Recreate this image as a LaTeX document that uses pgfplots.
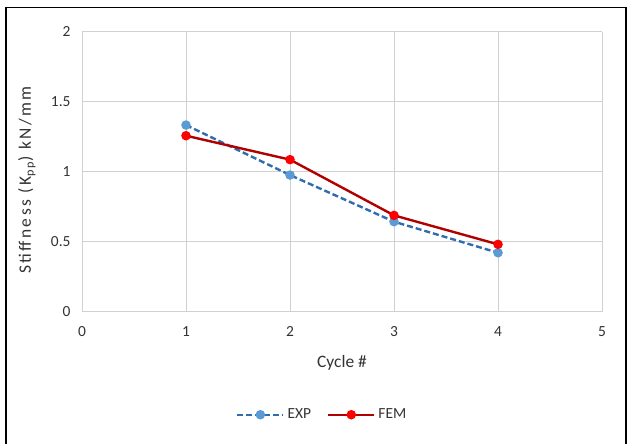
\documentclass[border=0pt]{standalone}
\usepackage{fontspec}
\setmainfont{Carlito}
\newfontfamily\spaced[LetterSpace=14]{Carlito}
\usepackage{pgfplots}
\pgfplotsset{compat=1.18}
\definecolor{expline}{HTML}{2E6DAE}
\definecolor{expmark}{HTML}{5B9BD5}
\definecolor{femline}{HTML}{B00000}
\definecolor{femmark}{HTML}{FF0000}
\definecolor{gridc}{HTML}{D0D0D0}
\definecolor{txt}{HTML}{333333}
\begin{document}
\begin{tikzpicture}[x=1bp,y=1bp]
\useasboundingbox (0,0) rectangle (627,444);
\draw[black,line width=1.2bp] (6,0) -- (6,436.7) -- (626,436.7) -- (626,0);
\begin{axis}[
  at={(82bp,132.3bp)}, anchor=south west,
  scale only axis, width=520bp, height=280bp,
  xmin=0, xmax=5, ymin=0, ymax=2,
  xtick={0,1,2,3,4,5}, ytick={0,0.5,1,1.5,2},
  major tick length=0pt,
  grid=major,
  grid style={gridc, line width=1bp},
  axis line style={gridc, line width=1bp},
  axis x line*=bottom,
  /pgf/number format/assume math mode=true,
  ticklabel style={font=\fontsize{15.5}{17}\selectfont, text=txt},
  yticklabel style={xshift=-8bp},
  xticklabel style={yshift=-11bp},
  xlabel={Cycle \#},
  ylabel={\spaced Stiffness (K\textsubscript{pp}) kN/mm},
  label style={font=\fontsize{17.5}{19}\selectfont, text=txt},
  xlabel style={at={(axis description cs:0.5,-0.182)}, anchor=center},
  ylabel style={at={(axis description cs:-0.106,0.47)}, anchor=center},
  legend columns=2,
  legend style={at={(axis description cs:0.462,-0.368)}, anchor=center, draw=none, fill=none,
    font=\fontsize{15.5}{17}\selectfont, text=txt, column sep=1bp, nodes={inner sep=2bp},
    /tikz/every even column/.append style={column sep=14bp}},
  legend image code/.code={\draw[#1, mark repeat=2, mark phase=2] plot coordinates {(0bp,0bp) (23bp,0bp) (46bp,0bp)};},
]
\addplot[expline, line width=2.4bp, dashed, dash pattern=on 6bp off 3bp, mark=*, mark size=3.5bp,
  mark options={solid, fill=expmark, draw=expmark}]
  coordinates {(1,1.333) (2,0.976) (3,0.643) (4,0.421)};
\addlegendentry{EXP}
\addplot[femline, line width=2.4bp, mark=*, mark size=3.5bp,
  mark options={solid, fill=femmark, draw=femmark}]
  coordinates {(1,1.257) (2,1.086) (3,0.688) (4,0.481)};
\addlegendentry{FEM}
\end{axis}
\end{tikzpicture}
\end{document}
